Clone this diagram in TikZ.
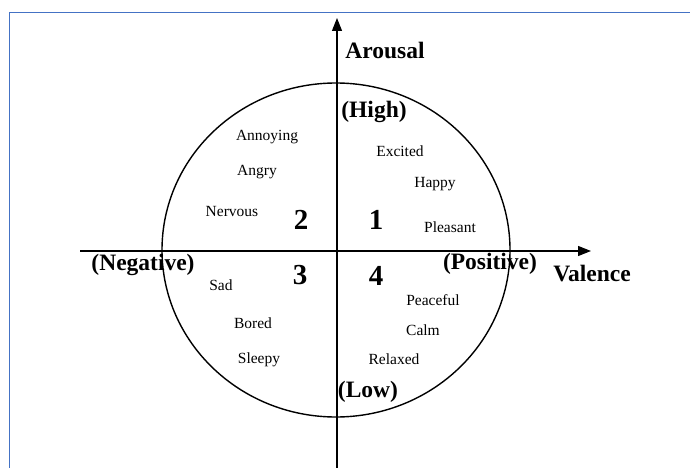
\documentclass[tikz,border=0pt]{standalone}
\usepackage{fontspec}
\setmainfont{Liberation Serif}
\usetikzlibrary{arrows.meta}
\definecolor{frameblue}{RGB}{68,114,196}
\begin{document}
\begin{tikzpicture}[x=1pt,y=-1pt,
  word/.style={font=\fontsize{15.5}{18}\selectfont, inner sep=0pt},
  lab/.style={font=\fontsize{23.5}{27}\selectfont\bfseries, inner sep=0pt},
  quad/.style={font=\fontsize{29}{33}\selectfont\bfseries, inner sep=0pt},
  axis/.style={line width=1.1pt, -{Triangle[length=13pt,width=10pt]}}]
\useasboundingbox (0,0) rectangle (690,468);
\fill[white] (0,0) rectangle (690,468);
% frame
\draw[frameblue, line width=1pt] (9,468) -- (9,13) -- (690,13);
% axes
\coordinate (hl) at (80,251);
\coordinate (hr) at (591,251);
\coordinate (vb) at (337,468);
\coordinate (vt) at (337,18);
\draw[axis] (hl) -- (hr);
\draw[axis] (vb) -- (vt);
% circle
\draw[line width=1.4pt] (336,250) ellipse [x radius=174, y radius=167];
% axis labels
\node[lab] (arousal) at (385,50) {Arousal};
\node[lab] (high) at (374,112) {(High)};
\node[lab] (low) at (368,392) {(Low)};
\node[lab] (neg) at (143,265) {(Negative)};
\node[lab] (pos) at (490,264) {(Positive)};
\node[lab] (valence) at (592,274) {Valence};
% quadrant numbers
\node[quad] (q1) at (376,220) {1};
\node[quad] (q2) at (301,220) {2};
\node[quad] (q3) at (300,275) {3};
\node[quad] (q4) at (376,276) {4};
% emotions
\node[word] (annoying) at (267,137) {Annoying};
\node[word] (angry) at (257,172) {Angry};
\node[word] (nervous) at (232,211) {Nervous};
\node[word] (sad) at (221,285) {Sad};
\node[word] (bored) at (253,323) {Bored};
\node[word] (sleepy) at (259,360) {Sleepy};
\node[word] (excited) at (400,151) {Excited};
\node[word] (happy) at (435,184) {Happy};
\node[word] (pleasant) at (450,227) {Pleasant};
\node[word] (peaceful) at (433,300) {Peaceful};
\node[word] (calm) at (423,330) {Calm};
\node[word] (relaxed) at (394,359) {Relaxed};
\end{tikzpicture}
\end{document}
